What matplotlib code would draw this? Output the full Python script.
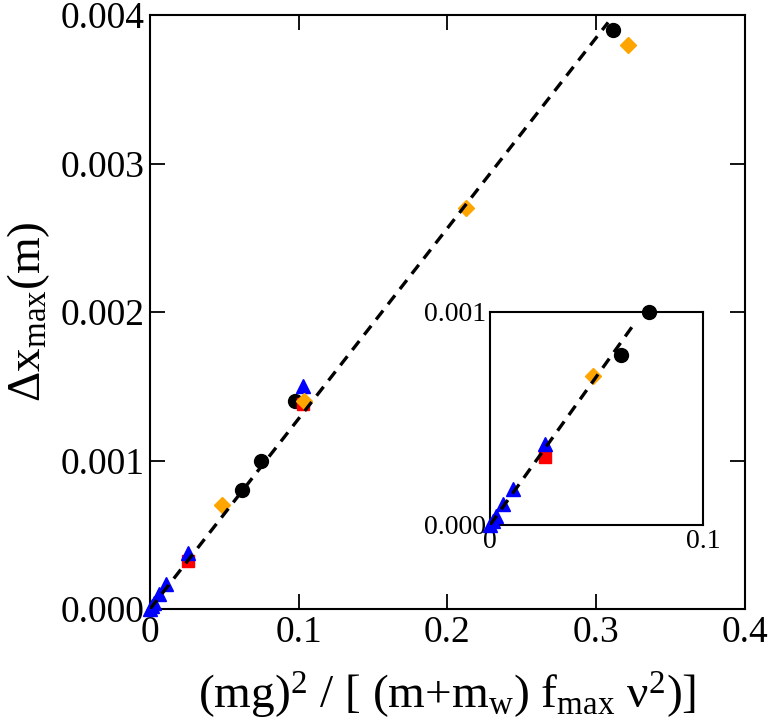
import matplotlib
matplotlib.use("Agg")
import matplotlib.pyplot as plt
import numpy as np

plt.rcParams["font.family"] = ["Liberation Serif", "DejaVu Serif"]
plt.rcParams["mathtext.fontset"] = "custom"
plt.rcParams["mathtext.rm"] = "Liberation Serif"
plt.rcParams["mathtext.default"] = "regular"

# data
circ_x = [0.0617, 0.0746, 0.0976, 0.311]
circ_y = [0.0008, 0.001, 0.0014, 0.0039]
diam_x = [0.0482, 0.1035, 0.2125, 0.3216]
diam_y = [0.0007, 0.0014, 0.0027, 0.0038]
sq_x = [0.0257, 0.1030]
sq_y = [0.00032, 0.00138]
tri_x = [0.0, 0.0015, 0.0030, 0.0062, 0.0110, 0.0257, 0.1032]
tri_y = [0.0, 0.00002, 0.00004, 0.0001, 0.00017, 0.00038, 0.0015]

fit_x = [0.0, 0.308]
fit_y = [0.0, 0.00395]
inset_fit_x = [0.0, 0.068]
inset_fit_y = [0.0, 0.000948]

series = [
    (circ_x, circ_y, "o", "black", 10),
    (sq_x, sq_y, "s", "#ff0000", 8.5),
    (tri_x, tri_y, "^", "#0000ff", 10),
    (diam_x, diam_y, "D", "#ffa500", 8.5),
]


def style(ax, size, ticklen):
    for s in ax.spines.values():
        s.set_linewidth(1.5)
    ax.tick_params(direction="in", length=ticklen, width=1.3, labelsize=size,
                   top=True, right=True, pad=6)


fig = plt.figure(figsize=(7.68, 7.25), dpi=100)
fig.set_facecolor("white")

ax = fig.add_axes([0.1953, 0.16, 0.7747, 0.8193])
for x, y, m, c, ms in series:
    ax.plot(x, y, m, color=c, ms=ms, mec=c, clip_on=False, zorder=3)
ax.plot(fit_x, fit_y, "--", color="black", lw=2.4, dashes=(3.4, 2.4), zorder=4)
ax.set_xlim(0, 0.4)
ax.set_ylim(0, 0.004)
ax.set_xticks([0, 0.1, 0.2, 0.3, 0.4])
ax.set_xticklabels(["0", "0.1", "0.2", "0.3", "0.4"])
ax.set_yticks([0, 0.001, 0.002, 0.003, 0.004])
ax.set_yticklabels(["0.000", "0.001", "0.002", "0.003", "0.004"])
style(ax, 27, 11)
ax.tick_params(axis="x", pad=5)
ax.tick_params(axis="y", pad=4)
ax.set_xlabel("(mg)$^2$ / [ (m+m$_w$) f$_{max}$ ν$^2$)]", fontsize=34, labelpad=14)
ax.set_ylabel("Δx$_{max}$(m)", fontsize=34, labelpad=6)

ins = fig.add_axes([0.638, 0.2759, 0.2773, 0.2938])
for x, y, m, c, ms in series:
    xs = np.array(x)
    ys = np.array(y)
    keep = (xs <= 0.1) & (ys <= 0.001)
    ins.plot(xs[keep], ys[keep], m, color=c, ms=ms, mec=c, clip_on=False, zorder=3)
ins.plot(inset_fit_x, inset_fit_y, "--", color="black", lw=2.4, dashes=(3.4, 2.4), zorder=4)
ins.set_xlim(0, 0.1)
ins.set_ylim(0, 0.001)
ins.set_xticks([0, 0.1])
ins.set_xticklabels(["0", "0.1"])
ins.set_yticks([0, 0.001])
ins.set_yticklabels(["0.000", "0.001"])
style(ins, 20, 0)
ins.tick_params(pad=3)

fig.savefig("out.png", dpi=100)
